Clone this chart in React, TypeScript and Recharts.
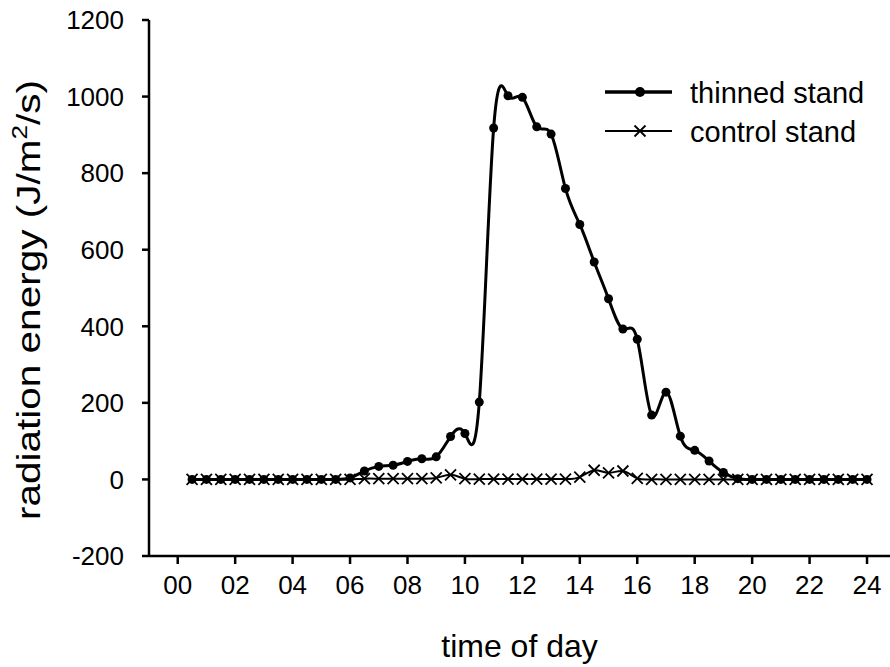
import React from "react";
import { LineChart, Line, XAxis, YAxis, Label } from "recharts";

// half-hour readings, 00:30 .. 24:00
const hours = [
  0.5, 1, 1.5, 2, 2.5, 3, 3.5, 4, 4.5, 5, 5.5, 6, 6.5, 7, 7.5, 8, 8.5, 9, 9.5, 10,
  10.5, 11, 11.5, 12, 12.5, 13, 13.5, 14, 14.5, 15, 15.5, 16, 16.5, 17, 17.5, 18,
  18.5, 19, 19.5, 20, 20.5, 21, 21.5, 22, 22.5, 23, 23.5, 24,
];

const thinnedStand = [
  0, 0, 0, 0, 0, 0, 0, 0, 0, 0, 0, 4, 22, 34, 37, 47, 54, 59, 112, 120,
  202, 918, 1002, 998, 921, 902, 760, 666, 568, 472, 393, 366, 168, 228, 113, 76,
  48, 18, 2, 0, 0, 0, 0, 0, 0, 0, 0, 0,
];

const controlStand = [
  0, 0, 0, 0, 0, 0, 0, 0, 0, 0, 0, 0, 2, 2, 2, 2, 2, 4, 12, 2,
  1, 1, 1, 1, 1, 1, 1, 6, 24, 17, 22, 3, 0, 0, 0, 0,
  0, 0, 0, 0, 0, 0, 0, 0, 0, 0, 0, 0,
];

const xTicks = [0, 2, 4, 6, 8, 10, 12, 14, 16, 18, 20, 22, 24];
const yTicks = [-200, 0, 200, 400, 600, 800, 1000, 1200];

const data = hours.map((h, i) => ({
  hour: h,
  thinned: thinnedStand[i],
  control: controlStand[i],
}));

const FONT = "Arial, 'Liberation Sans', Helvetica, sans-serif";

function CrossDot(props: any) {
  const { cx, cy, index } = props;
  if (cx == null || cy == null) return null;
  const s = 5.5;
  return (
    <path
      key={`x-${index}`}
      d={`M${cx - s},${cy - s}L${cx + s},${cy + s}M${cx - s},${cy + s}L${cx + s},${cy - s}`}
      stroke="#000"
      strokeWidth={1.8}
      fill="none"
    />
  );
}

function YTitle(props: any) {
  const vb = props.viewBox || { x: 0, y: 20, width: 149, height: 536 };
  const cx = 40;
  const cy = vb.y + vb.height / 2 + 12;
  return (
    <text
      transform={`translate(${cx},${cy}) rotate(-90)`}
      textAnchor="middle"
      fontSize={34}
      fontFamily={FONT}
      fill="#000"
      textLength={440}
      lengthAdjust="spacingAndGlyphs"
    >
      radiation energy (J/m
      <tspan fontSize={22} dy={-13}>2</tspan>
      <tspan dy={13}>/s)</tspan>
    </text>
  );
}

function XTitle(props: any) {
  const vb = props.viewBox || { x: 149, y: 556, width: 741, height: 60 };
  return (
    <text
      x={vb.x + vb.width / 2}
      y={657}
      textAnchor="middle"
      fontSize={32}
      fontFamily={FONT}
      fill="#000"
    >
      time of day
    </text>
  );
}

function LegendBox() {
  return (
    <svg
      width={890}
      height={667}
      style={{ position: "absolute", left: 0, top: 0, pointerEvents: "none" }}
    >
      <line x1={605} x2={672} y1={92} y2={92} stroke="#000" strokeWidth={3.5} />
      <circle cx={640} cy={92} r={5} fill="#000" />
      <text x={690} y={103} fontSize={29} fontFamily={FONT} fill="#000">
        thinned stand
      </text>
      <line x1={605} x2={672} y1={131} y2={131} stroke="#000" strokeWidth={2} />
      <CrossDot cx={640} cy={131} index={0} />
      <text x={690} y={142} fontSize={29} fontFamily={FONT} fill="#000">
        control stand
      </text>
    </svg>
  );
}

export default function App() {
  const tickStyle = { fill: "#000", fontSize: 26, fontFamily: FONT };
  return (
    <div style={{ position: "absolute", left: 0, top: 0, width: 890, height: 667, background: "#fff" }}>
      <LineChart
        width={890}
        height={667}
        data={data}
        margin={{ top: 20, right: 0, bottom: 51, left: 0 }}
      >
        <XAxis
          dataKey="hour"
          type="number"
          domain={[-1, 24.8]}
          allowDataOverflow
          ticks={xTicks}
          interval={0}
          tickFormatter={(v: number) => String(v).padStart(2, "0")}
          height={60}
          tickSize={8}
          tickMargin={12}
          tick={tickStyle}
          axisLine={{ stroke: "#000", strokeWidth: 2.5 }}
          tickLine={{ stroke: "#000", strokeWidth: 2.5 }}
        >
          <Label content={<XTitle />} />
        </XAxis>
        <YAxis
          type="number"
          domain={[-200, 1200]}
          allowDataOverflow
          ticks={yTicks}
          interval={0}
          width={149}
          tickSize={7}
          tickMargin={18}
          tick={tickStyle}
          axisLine={{ stroke: "#000", strokeWidth: 2.5 }}
          tickLine={{ stroke: "#000", strokeWidth: 2.5 }}
        >
          <Label content={<YTitle />} />
        </YAxis>
        <Line
          dataKey="control"
          type="natural"
          stroke="#000"
          strokeWidth={2}
          dot={<CrossDot />}
          activeDot={false}
          isAnimationActive={false}
        />
        <Line
          dataKey="thinned"
          type="natural"
          stroke="#000"
          strokeWidth={3}
          dot={{ r: 4.5, fill: "#000", stroke: "#000", strokeWidth: 0 }}
          activeDot={false}
          isAnimationActive={false}
        />
      </LineChart>
      <LegendBox />
    </div>
  );
}
